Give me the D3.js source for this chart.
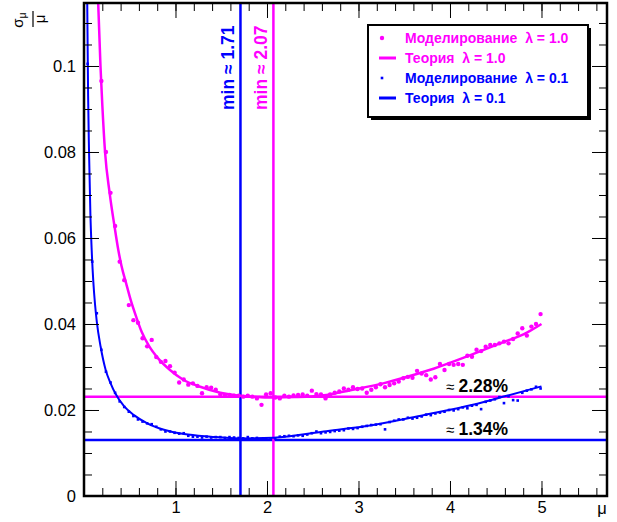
<!DOCTYPE html>
<html>
<head>
<meta charset="utf-8">
<script src="https://cdn.jsdelivr.net/npm/d3@7"></script>
<style>
  body { margin: 0; background: #fff; }
  svg { display: block; font-family: "Liberation Sans", Arial, sans-serif; }
</style>
</head>
<body>
<div id="chart"></div>
<script>
// simulated points, mu grid
const simMu = [0.04, 0.09, 0.14, 0.19, 0.24, 0.29, 0.34, 0.39, 0.44, 0.49,
  0.54, 0.59, 0.64, 0.69, 0.74, 0.79, 0.84, 0.89, 0.94, 0.99,
  1.04, 1.09, 1.14, 1.19, 1.24, 1.29, 1.34, 1.39, 1.44, 1.49,
  1.54, 1.59, 1.64, 1.69, 1.74, 1.79, 1.84, 1.89, 1.94, 1.99,
  2.04, 2.09, 2.14, 2.19, 2.24, 2.29, 2.34, 2.39, 2.44, 2.49,
  2.54, 2.59, 2.64, 2.69, 2.74, 2.79, 2.84, 2.89, 2.94, 2.99,
  3.04, 3.09, 3.14, 3.19, 3.24, 3.29, 3.34, 3.39, 3.44, 3.49,
  3.54, 3.59, 3.64, 3.69, 3.74, 3.79, 3.84, 3.89, 3.94, 3.99,
  4.04, 4.09, 4.14, 4.19, 4.24, 4.29, 4.34, 4.39, 4.44, 4.49,
  4.54, 4.59, 4.64, 4.69, 4.74, 4.79, 4.84, 4.89, 4.94, 4.99];

// lambda = 1.0 (first three are above the frame)
const simLam10 = [null, null, null, 0.0965, 0.0800, 0.0705, 0.0628, 0.0545, 0.0502, 0.0444,
  0.0409, 0.0403, 0.0367, 0.0348, 0.0363, 0.0323, 0.0312, 0.0314, 0.0302, 0.0287,
  0.0264, 0.0271, 0.0259, 0.0262, 0.0256, 0.0239, 0.0253, 0.0252, 0.0247, 0.0236,
  0.0235, 0.0235, 0.0233, 0.0233, 0.0231, 0.0233, 0.0231, 0.0227, 0.0212, 0.0236,
  0.0239, 0.0229, 0.0227, 0.0233, 0.0231, 0.0234, 0.0235, 0.0236, 0.0233, 0.0245,
  0.0237, 0.0236, 0.0227, 0.0236, 0.0240, 0.0243, 0.0250, 0.0247, 0.0253, 0.0249,
  0.0250, 0.0240, 0.0247, 0.0253, 0.0260, 0.0253, 0.0258, 0.0262, 0.0266, 0.0274,
  0.0277, 0.0275, 0.0291, 0.0285, 0.0281, 0.0271, 0.0276, 0.0307, 0.0293, 0.0307,
  0.0305, 0.0307, 0.0305, 0.0326, 0.0324, 0.0340, 0.0337, 0.0347, 0.0351, 0.0351,
  0.0355, 0.0359, 0.0355, 0.0365, 0.0378, 0.0390, 0.0373, 0.0394, 0.0400, 0.0423];

// lambda = 0.1
const simLam01 = [0.1005, 0.0545, 0.0425, 0.0340, 0.0289, 0.0264, 0.0240, 0.0220, 0.0207, 0.0196,
  0.0186, 0.0178, 0.0173, 0.0169, 0.0167, 0.0161, 0.0155, 0.0150, 0.0150, 0.0147,
  0.0145, 0.0146, 0.0140, 0.0138, 0.0138, 0.0136, 0.0138, 0.0136, 0.0137, 0.0137,
  0.0135, 0.0137, 0.0136, 0.0135, 0.0134, 0.0137, 0.0134, 0.0135, 0.0132, 0.0134,
  0.0133, 0.0134, 0.0138, 0.0139, 0.0140, 0.0139, 0.0141, 0.0140, 0.0143, 0.0146,
  0.0150, 0.0146, 0.0148, 0.0149, 0.0151, 0.0152, 0.0153, 0.0157, 0.0156, 0.0158,
  0.0161, 0.0163, 0.0165, 0.0166, 0.0167, 0.0155, 0.0172, 0.0175, 0.0178, 0.0178,
  0.0182, 0.0180, 0.0182, 0.0185, 0.0189, 0.0188, 0.0192, 0.0194, 0.0196, 0.0200,
  0.0199, 0.0202, 0.0206, 0.0204, 0.0210, 0.0212, 0.0202, 0.0219, 0.0222, 0.0225,
  0.0230, 0.0216, 0.0232, 0.0223, 0.0222, 0.0240, 0.0245, 0.0248, 0.0254, 0.0250];

// theory curves
const theoryMu10 = [0.14, 0.155, 0.18, 0.2, 0.23, 0.28, 0.335, 0.375, 0.41, 0.46, 0.51, 0.57, 0.63,
  0.71, 0.81, 0.94, 1.08, 1.27, 1.49, 1.70, 1.92, 2.07, 2.3, 2.65, 2.91, 3.27, 3.56, 3.82, 4.18, 4.55, 4.84, 5.0];
const theoryLam10 = [0.125, 0.1147, 0.100, 0.091, 0.080, 0.0705, 0.0625, 0.0572, 0.0535, 0.0495, 0.0456, 0.0417, 0.0382,
  0.0349, 0.0320, 0.0293, 0.0271, 0.0254, 0.0240, 0.0233, 0.0230, 0.0229, 0.0230, 0.0235, 0.0246, 0.0262, 0.0279, 0.0296, 0.0324, 0.0355, 0.0380, 0.0400];

const theoryMu01 = [0.030, 0.036, 0.045, 0.055, 0.07, 0.084, 0.102, 0.12, 0.14, 0.182, 0.237, 0.291, 0.346,
  0.437, 0.546, 0.692, 0.874, 1.093, 1.385, 1.70, 2.07, 2.62, 3.16, 3.71, 4.25, 4.62, 5.0];
const theoryLam01 = [0.132, 0.113, 0.093, 0.080, 0.0655, 0.0572, 0.0498, 0.0447, 0.0405, 0.0347, 0.0293, 0.0262, 0.0237,
  0.0209, 0.0188, 0.0169, 0.0154, 0.0144, 0.0138, 0.0134, 0.01356, 0.0150, 0.0165, 0.0188, 0.0212, 0.0233, 0.0255];

// minimum markers
const minMu = [1.71, 2.07];
const minLabels = ["min \u2248 1.71", "min \u2248 2.07"];
const minLevel = [0.0130, 0.0231];
const minLevelLabels = ["1.34%", "2.28%"];

const legendLabels = ["\u041c\u043e\u0434\u0435\u043b\u0438\u0440\u043e\u0432\u0430\u043d\u0438\u0435  \u03bb = 1.0",
  "\u0422\u0435\u043e\u0440\u0438\u044f  \u03bb = 1.0",
  "\u041c\u043e\u0434\u0435\u043b\u0438\u0440\u043e\u0432\u0430\u043d\u0438\u0435  \u03bb = 0.1",
  "\u0422\u0435\u043e\u0440\u0438\u044f  \u03bb = 0.1"];

const xMajor = [0, 1, 2, 3, 4, 5];
const yMajor = [0, 0.02, 0.04, 0.06, 0.08, 0.1];

const MAG = "#ff00ff", BLUE = "#0000ff";
const width = 617, height = 522;
const frame = { left: 84, right: 607, top: 3, bottom: 496 };

const svg = d3.select("#chart").append("svg")
  .attr("width", width).attr("height", height);

const x = d3.scaleLinear().domain([0, 5.716]).range([frame.left, frame.right]);
const y = d3.scaleLinear().domain([0, 0.11465]).range([frame.bottom, frame.top]);

svg.append("defs").append("clipPath").attr("id", "plot")
  .append("rect").attr("x", frame.left).attr("y", frame.top)
  .attr("width", frame.right - frame.left).attr("height", frame.bottom - frame.top);

const plot = svg.append("g").attr("clip-path", "url(#plot)");

// horizontal and vertical reference lines
const refColors = [BLUE, MAG];
plot.selectAll(".hline").data(minLevel).join("line")
  .attr("x1", frame.left).attr("x2", frame.right)
  .attr("y1", d => y(d)).attr("y2", d => y(d))
  .attr("stroke", (d, i) => refColors[i]).attr("stroke-width", 2.5);
plot.selectAll(".vline").data(minMu).join("line")
  .attr("x1", d => x(d)).attr("x2", d => x(d))
  .attr("y1", frame.top).attr("y2", frame.bottom)
  .attr("stroke", (d, i) => refColors[i]).attr("stroke-width", 2.5);

// theory curves
const line = d3.line().x(d => x(d[0])).y(d => y(d[1])).curve(d3.curveMonotoneX);
plot.append("path").datum(d3.zip(theoryMu10, theoryLam10))
  .attr("d", line).attr("fill", "none").attr("stroke", MAG).attr("stroke-width", 2.5);
plot.append("path").datum(d3.zip(theoryMu01, theoryLam01))
  .attr("d", line).attr("fill", "none").attr("stroke", BLUE).attr("stroke-width", 2);

// simulated points
const pts10 = d3.zip(simMu, simLam10).filter(d => d[1] != null);
const pts01 = d3.zip(simMu, simLam01);
plot.append("g").selectAll("circle").data(pts10).join("circle")
  .attr("cx", d => x(d[0])).attr("cy", d => y(d[1])).attr("r", 2.2).attr("fill", MAG);
plot.append("g").selectAll("rect").data(pts01).join("rect")
  .attr("x", d => x(d[0]) - 1.3).attr("y", d => y(d[1]) - 1.3)
  .attr("width", 2.6).attr("height", 2.6).attr("fill", BLUE);

// axes with inward ticks
const xMinor = d3.range(0, 5.71, 0.2);
const yMinor = d3.range(0, 0.1146, 0.005);
function drawAxis(axis, tx, ty) {
  const g = svg.append("g").attr("transform", `translate(${tx},${ty})`).call(axis);
  g.select(".domain").remove();
  g.selectAll("line").attr("stroke", "#000").attr("stroke-width", 1);
  g.selectAll("text").attr("font-size", 16.5).attr("fill", "#000")
    .attr("font-family", '"Liberation Sans", Arial, sans-serif');
  return g;
}
drawAxis(d3.axisBottom(x).tickValues(xMinor).tickSize(-8).tickFormat(""), 0, frame.bottom);
drawAxis(d3.axisBottom(x).tickValues(xMajor).tickSize(-15).tickPadding(5)
  .tickFormat(d => d === 0 ? "" : d), 0, frame.bottom);
drawAxis(d3.axisTop(x).tickValues(xMinor).tickSize(-8).tickFormat(""), 0, frame.top);
drawAxis(d3.axisTop(x).tickValues(xMajor).tickSize(-15).tickFormat(""), 0, frame.top);
drawAxis(d3.axisLeft(y).tickValues(yMinor).tickSize(-8).tickFormat(""), frame.left, 0);
drawAxis(d3.axisLeft(y).tickValues(yMajor).tickSize(-15).tickPadding(8)
  .tickFormat(d => d === 0 ? "0" : String(+d.toFixed(2))), frame.left, 0);
drawAxis(d3.axisRight(y).tickValues(yMinor).tickSize(-8).tickFormat(""), frame.right, 0);
drawAxis(d3.axisRight(y).tickValues(yMajor).tickSize(-15).tickFormat(""), frame.right, 0);

// frame
svg.append("rect")
  .attr("x", frame.left).attr("y", frame.top)
  .attr("width", frame.right - frame.left).attr("height", frame.bottom - frame.top)
  .attr("fill", "none").attr("stroke", "#000").attr("stroke-width", 2.5);

// axis titles
svg.append("text").attr("x", 602).attr("y", 514).attr("text-anchor", "middle")
  .attr("font-size", 16.5).text("\u03bc");
const yt = svg.append("g").attr("transform", "translate(33,19) rotate(-90)");
yt.append("line").attr("x1", -8).attr("x2", 8).attr("y1", 0).attr("y2", 0)
  .attr("stroke", "#000").attr("stroke-width", 1.2);
const num = yt.append("text").attr("x", -1).attr("y", -10).attr("text-anchor", "middle").attr("font-size", 15);
num.append("tspan").text("\u03c3");
num.append("tspan").attr("font-size", 10.5).attr("dy", 3).text("\u03bc");
yt.append("text").attr("x", 0).attr("y", 12).attr("text-anchor", "middle")
  .attr("font-size", 15).text("\u03bc");

// minimum labels
svg.selectAll(".minlab").data(minMu).join("text")
  .attr("transform", d => `translate(${x(d) - 6},110) rotate(-90)`)
  .attr("font-size", 17.5).attr("font-weight", "bold")
  .attr("fill", (d, i) => refColors[i])
  .text((d, i) => minLabels[i]);

// percentage labels
svg.selectAll(".lvllab").data(minLevel).join("text")
  .attr("x", 446).attr("y", d => y(d) - 5)
  .attr("font-size", 17.5).attr("font-weight", "bold")
  .each(function (d, i) {
    const t = d3.select(this);
    t.append("tspan").attr("font-weight", "normal").attr("font-size", 15).text("\u2248 ");
    t.append("tspan").text(minLevelLabels[i]);
  });

// legend
const lg = svg.append("g");
lg.append("rect").attr("x", 371).attr("y", 28).attr("width", 220).attr("height", 92).attr("fill", "#000");
lg.append("rect").attr("x", 368).attr("y", 25).attr("width", 220).attr("height", 92)
  .attr("fill", "#fff").attr("stroke", "#000").attr("stroke-width", 2);
const legColors = [MAG, MAG, BLUE, BLUE];
const legKinds = ["dot", "line", "square", "line"];
legendLabels.forEach((lab, i) => {
  const cy = 38 + i * 20;
  if (legKinds[i] === "dot") {
    lg.append("circle").attr("cx", 382).attr("cy", cy).attr("r", 2.2).attr("fill", legColors[i]);
  } else if (legKinds[i] === "square") {
    lg.append("rect").attr("x", 380.7).attr("y", cy - 1.3).attr("width", 2.6).attr("height", 2.6).attr("fill", legColors[i]);
  } else {
    lg.append("line").attr("x1", 379).attr("x2", 396).attr("y1", cy).attr("y2", cy)
      .attr("stroke", legColors[i]).attr("stroke-width", 3);
  }
  lg.append("text").attr("x", 405).attr("y", cy + 5)
    .attr("font-size", 14).attr("font-weight", "bold").attr("fill", legColors[i])
    .style("white-space", "pre").text(lab);
});
</script>
</body>
</html>
